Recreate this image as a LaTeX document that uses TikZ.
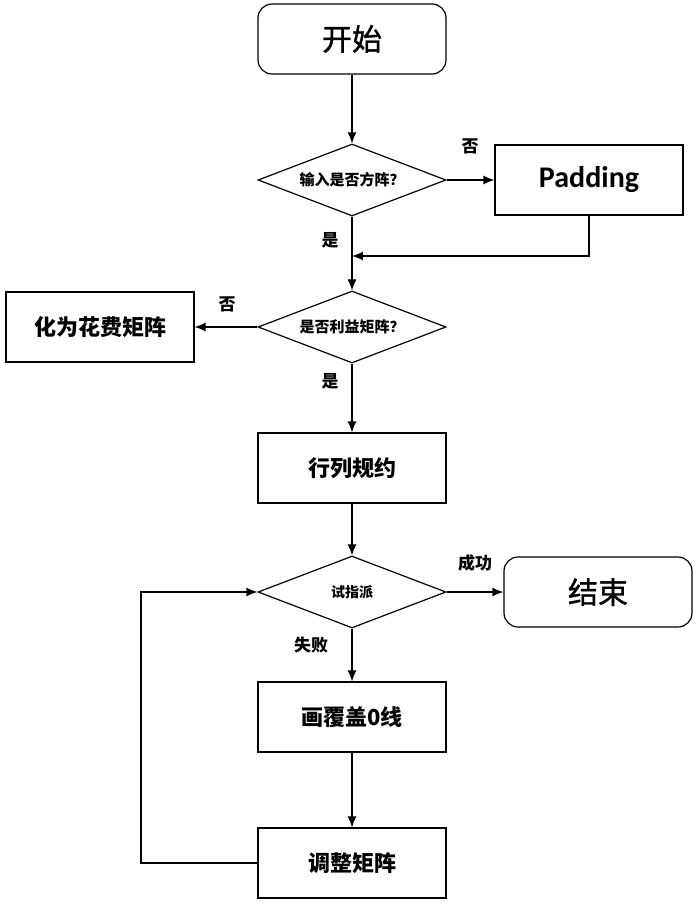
\documentclass[tikz,border=0pt]{standalone}
\usepackage{fontspec}
\newfontfamily\cjk{Noto Sans CJK SC}
\newfontfamily\cjkmid[FakeBold=1.2]{Noto Sans CJK SC}
\newfontfamily\latin{Carlito}
\usetikzlibrary{arrows.meta}
\usetikzlibrary{shapes.geometric}

\tikzset{
 box/.style={draw, line width=1.2pt, minimum width=188pt, minimum height=70pt, inner sep=0pt},
 term/.style={box, rounded corners=14pt, font=\cjkmid\fontsize{30}{32}\selectfont},
 work/.style={box, font=\cjk\bfseries\fontsize{22}{24}\selectfont},
 choice/.style={draw, diamond, aspect=2.6, line width=1.2pt, minimum width=188pt, minimum height=72pt, inner sep=0pt, font=\cjk\bfseries\fontsize{15}{17}\selectfont},
 tag/.style={font=\cjk\bfseries\fontsize{17}{19}\selectfont, inner sep=0pt},
 link/.style={line width=1.2pt, -{Latex[length=11pt,width=9pt]}}
}

\begin{document}
\begin{tikzpicture}[x=1pt, y=-1pt]
\useasboundingbox (0,0) rectangle (700,909);
% main column
\node[term] (start) at (352,39) {开始};
\node[choice] (square) at (352,180) {输入是否方阵？};
\node[box, font=\latin\bfseries\fontsize{30}{32}\selectfont] (pad) at (589,180) {Padding};
\node[choice] (profit) at (352,327) {是否利益矩阵？};
\node[work] (cost) at (100,327) {化为花费矩阵};
\node[work] (reduce) at (352,468) {行列规约};
\node[choice, font=\cjk\bfseries\fontsize{14}{16}\selectfont] (try) at (352,592) {试指派};
\node[term] (stop) at (598,592) {结束};
\node[work] (cover) at (352,717) {画覆盖0线};
\node[work] (adjust) at (352,863) {调整矩阵};
% labels
\node[tag] (no1) at (470,146) {否};
\node[tag] (yes1) at (330,240) {是};
\node[tag] (no2) at (227,304) {否};
\node[tag] (yes2) at (330,381) {是};
\node[tag] (ok) at (475,563) {成功};
\node[tag] (fail) at (311,645) {失败};
% connectors
\coordinate (merge) at (352,256);
\coordinate (back) at (141,863);
\draw[link] (start) -- (square);
\draw[link] (square) -- (pad);
\draw[link] (pad.south) |- (merge);
\draw[link] (square) -- (profit);
\draw[link] (profit) -- (cost);
\draw[link] (profit) -- (reduce);
\draw[link] (reduce) -- (try);
\draw[link] (try) -- (stop);
\draw[link] (try) -- (cover);
\draw[link] (cover) -- (adjust);
\draw[link] (adjust.west) -- (back) |- (try.west);
\end{tikzpicture}
\end{document}
